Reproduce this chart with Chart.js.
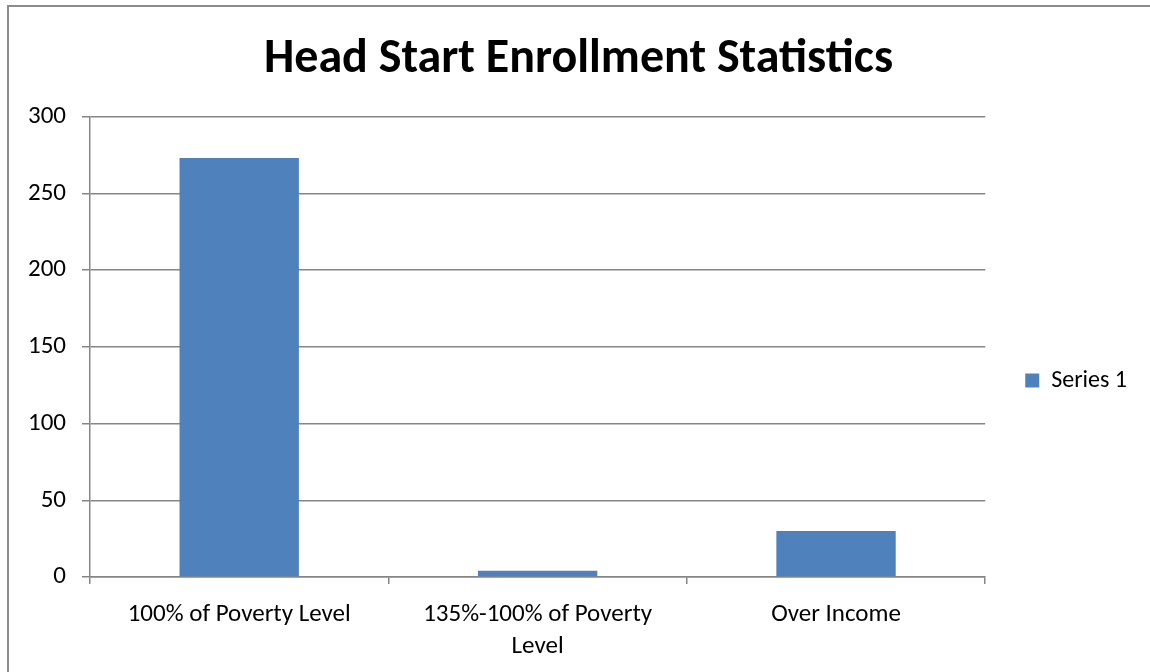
<!DOCTYPE html>
<html lang="en">
<head>
  <meta charset="UTF-8">
  <title>Head Start Enrollment Statistics</title>
  <script src="https://cdn.jsdelivr.net/npm/chart.js"></script>
  <style>
    body { margin: 0; background: #fff; overflow: hidden; font-family: Carlito, Lato, sans-serif; }
    .frame { position: absolute; left: 7px; top: 5px; width: 1150px; height: 672px; border-top: 2px solid #8c8c8c; border-left: 2px solid #8c8c8c; }
    .chart-container { position: absolute; left: 0; top: 0; width: 1150px; height: 672px; }
  </style>
</head>
<body>
  <div class="frame"></div>
  <div class="chart-container">
    <canvas id="chart"></canvas>
  </div>

  <script>
    // data
    const categories = ['100% of Poverty Level', ['135%-100% of Poverty', 'Level'], 'Over Income'];
    const series1 = [273, 4, 30];
    const yTicks = [0, 50, 100, 150, 200, 250, 300];

    const gridColor = '#868686';
    const fontFamily = 'Carlito, Lato, sans-serif';

    new Chart(document.getElementById('chart'), {
      type: 'bar',
      data: {
        labels: categories,
        datasets: [
          { label: 'Series 1', data: series1, backgroundColor: '#4f81bd', categoryPercentage: 1, barPercentage: 0.4 }
        ]
      },
      options: {
        responsive: true,
        maintainAspectRatio: false,
        animation: false,
        layout: { padding: { left: 20, right: 13, top: 0, bottom: 9 } },
        plugins: {
          title: {
            display: true,
            text: 'Head Start Enrollment Statistics',
            color: '#000',
            font: { family: fontFamily, size: 48, weight: 'bold' },
            padding: { top: 31, bottom: 28 }
          },
          legend: {
            position: 'right',
            // empty legend title only pushes the entry down to where it sits in the original
            title: { display: true, text: '', font: { size: 2, lineHeight: 1 }, padding: { top: 96, bottom: 0 } },
            labels: {
              color: '#000',
              font: { family: fontFamily, size: 24 },
              boxWidth: 14,
              boxHeight: 14,
              padding: 40
            }
          },
          tooltip: { enabled: false }
        },
        scales: {
          x: {
            afterFit: scale => { scale.height = 86; },
            grid: { display: true, offset: true, drawOnChartArea: false, color: gridColor, lineWidth: 1.5, tickLength: 7 },
            border: { color: gridColor, width: 1.5 },
            ticks: { color: '#000', font: { family: fontFamily, size: 25, lineHeight: 1.3 }, maxRotation: 0, padding: 14 }
          },
          y: {
            min: 0,
            max: 300,
            afterBuildTicks: scale => { scale.ticks = yTicks.map(v => ({ value: v })); },
            afterFit: scale => { scale.width = 70; },
            grid: { color: gridColor, lineWidth: 1.5, tickLength: 8 },
            border: { color: gridColor, width: 1.5 },
            ticks: { color: '#000', font: { family: fontFamily, size: 25 }, padding: 16 }
          }
        }
      }
    });
  </script>
</body>
</html>
